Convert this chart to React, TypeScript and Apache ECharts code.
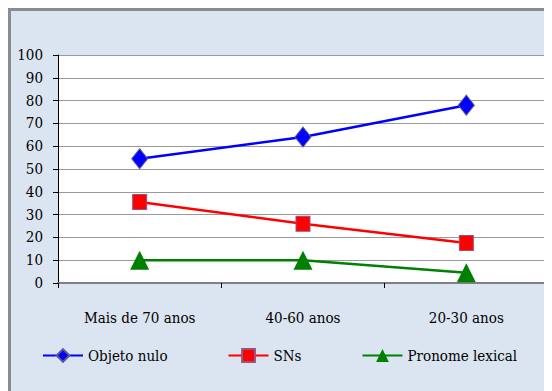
import React, { useEffect, useRef } from "react";
import * as echarts from "echarts";

const categories = ["Mais de 70 anos", "40-60 anos", "20-30 anos"];
const objetoNulo = [54.5, 64, 78];
const sns = [35.5, 26, 17.5];
const pronomeLexical = [10, 10, 4.5];

export default function App() {
  const ref = useRef<HTMLDivElement>(null);
  useEffect(() => {
    if (!ref.current) return;
    const chart = echarts.init(ref.current, undefined, { renderer: "svg" });
    const font = "DejaVu Serif Condensed";
    chart.setOption({
      animation: false,
      textStyle: { fontFamily: font },
      grid: {
        left: 47,
        top: 44,
        width: 490,
        height: 228,
        show: true,
        backgroundColor: "#ffffff",
        borderWidth: 0,
      },
      legend: {
        left: 26,
        top: 332,
        itemWidth: 40,
        itemHeight: 16,
        itemGap: 60,
        textStyle: { fontFamily: font, fontSize: 15, color: "#000" },
        data: ["Objeto nulo", "SNs", "Pronome lexical"],
      },
      xAxis: {
        type: "category",
        data: categories,
        boundaryGap: true,
        axisLine: { lineStyle: { color: "#808080", width: 2 } },
        axisTick: { show: true, length: 5, lineStyle: { color: "#000" } },
        axisLabel: { fontFamily: font, fontSize: 15, color: "#000", margin: 27 },
      },
      yAxis: {
        type: "value",
        min: 0,
        max: 100,
        interval: 10,
        axisLine: { show: true, lineStyle: { color: "#000", width: 1 } },
        axisTick: { show: true, length: 5, lineStyle: { color: "#000" } },
        axisLabel: { fontFamily: font, fontSize: 15, color: "#000", margin: 15 },
        splitLine: { lineStyle: { color: "#9a9a9a", width: 1 } },
      },
      series: [
        {
          name: "Objeto nulo",
          type: "line",
          data: objetoNulo,
          symbol: "diamond",
          symbolSize: [16, 20],
          lineStyle: { color: "#0000ff", width: 2.5 },
          itemStyle: { color: "#0000ff", borderColor: "#5a5a9a", borderWidth: 1 },
        },
        {
          name: "SNs",
          type: "line",
          data: sns,
          symbol: "rect",
          symbolSize: [14, 15],
          lineStyle: { color: "#ff0000", width: 2.5 },
          itemStyle: { color: "#ff0000", borderColor: "#99527a", borderWidth: 1 },
        },
        {
          name: "Pronome lexical",
          type: "line",
          data: pronomeLexical,
          symbol: "triangle",
          symbolSize: [19, 19],
          lineStyle: { color: "#008000", width: 2.5 },
          itemStyle: { color: "#008000" },
        },
      ],
    });
    return () => chart.dispose();
  }, []);
  return (
    <div
      style={{
        width: 544,
        height: 383,
        boxSizing: "border-box",
        borderTop: "3px solid #8c8c8c",
        borderLeft: "3px solid #8c8c8c",
        background: "#dbe5f1",
        overflow: "hidden",
      }}
    >
      <div ref={ref} style={{ width: 541, height: 380 }} />
    </div>
  );
}
